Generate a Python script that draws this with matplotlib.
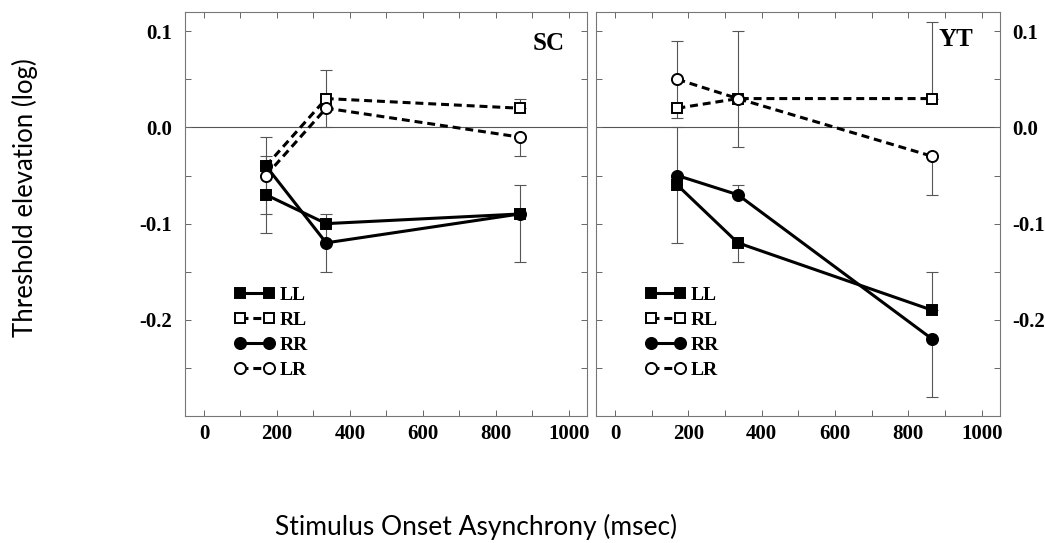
import matplotlib
matplotlib.use('Agg')
import matplotlib.pyplot as mpl
from matplotlib.ticker import MultipleLocator

# stimulus onset asynchrony (msec)
soa = [170, 335, 865]
labels = ['LL', 'RL', 'RR', 'LR']

# subject SC
sc_ll = [-0.07, -0.10, -0.09]
sc_rl = [-0.04, 0.03, 0.02]
sc_rr = [-0.04, -0.12, -0.09]
sc_lr = [-0.05, 0.02, -0.01]
# error bars as [lower, upper]
sc_ll_err = [[0.04, 0.0, 0.05], [0.04, 0.0, 0.03]]
sc_rl_err = [[0.0, 0.03, 0.0], [0.0, 0.03, 0.01]]
sc_rr_err = [[0.0, 0.03, 0.0], [0.0, 0.03, 0.0]]
sc_lr_err = [[0.04, 0.0, 0.02], [0.04, 0.0, 0.0]]

# subject YT
yt_ll = [-0.06, -0.12, -0.19]
yt_rl = [0.02, 0.03, 0.03]
yt_rr = [-0.05, -0.07, -0.22]
yt_lr = [0.05, 0.03, -0.03]
yt_ll_err = [[0.06, 0.02, 0.0], [0.06, 0.0, 0.04]]
yt_rl_err = [[0.0, 0.05, 0.0], [0.0, 0.07, 0.08]]
yt_rr_err = [[0.0, 0.0, 0.06], [0.0, 0.01, 0.0]]
yt_lr_err = [[0.04, 0.0, 0.04], [0.04, 0.0, 0.0]]

tick_font = {'family': 'Liberation Serif', 'weight': 'bold', 'size': 15}
dash = (2.6, 1.6)


def draw_panel(ax, ll, rl, rr, lr, errs, name, name_x, name_y, right_labels):
    ax.axhline(0, color='#555555', lw=0.8, zorder=1)

    styles = [
        (ll, errs[0], 's', 'black', '-'),
        (rl, errs[1], 's', 'white', '--'),
        (rr, errs[2], 'o', 'black', '-'),
        (lr, errs[3], 'o', 'white', '--'),
    ]
    order = [1, 3, 0, 2]  # open symbols below filled
    handles = {}
    for i in order:
        vals, err, mk, fc, ls = styles[i]
        ax.errorbar(soa, vals, yerr=err, fmt='none', ecolor='#555555',
                    elinewidth=0.8, capsize=4, capthick=0.8, zorder=2)
        line, = ax.plot(soa, vals, marker=mk, markersize=8 if mk == 'o' else 7.5,
                        markerfacecolor=fc, markeredgecolor='black',
                        markeredgewidth=1.4, color='black', lw=2.2,
                        linestyle=ls, zorder=3 + i)
        if ls == '--':
            line.set_dashes(dash)
        handles[i] = line

    ax.set_xlim(-52, 1050)
    ax.set_ylim(-0.30, 0.12)
    ax.xaxis.set_minor_locator(MultipleLocator(100))
    ax.yaxis.set_minor_locator(MultipleLocator(0.05))
    ax.set_xticks([0, 200, 400, 600, 800, 1000])
    ax.set_xticklabels(['0', '200', '400', '600', '800', '1000'], fontdict=tick_font)
    ax.set_yticks([-0.2, -0.1, 0.0, 0.1])
    ax.set_yticklabels(['-0.2', '-0.1', '0.0', '0.1'], fontdict=tick_font)
    ax.tick_params(which='both', direction='in', top=True, right=True,
                   length=4, width=0.7, color='#666666')
    ax.tick_params(axis='x', pad=6)
    ax.tick_params(axis='y', pad=9)
    if right_labels:
        ax.tick_params(axis='y', labelleft=False, labelright=True)
    for s in ax.spines.values():
        s.set_color('#777777')
        s.set_linewidth(0.8)

    ax.text(name_x, name_y, name, transform=ax.transAxes, ha='center',
            va='baseline', fontfamily='Liberation Serif', fontweight='bold',
            fontsize=18)

    ax.legend([handles[i] for i in range(4)], labels, loc='upper left',
              bbox_to_anchor=(0.122, 0.322), numpoints=2, frameon=False,
              borderpad=0, borderaxespad=0, handlelength=2.1,
              handletextpad=0.22, labelspacing=0.38,
              prop={'family': 'Liberation Serif', 'weight': 'bold', 'size': 14})


fig = mpl.figure(figsize=(10.45, 5.43), dpi=100)
ax1 = fig.add_axes([185 / 1045, 1 - 416 / 543, 402 / 1045, 404 / 543])
ax2 = fig.add_axes([596 / 1045, 1 - 416 / 543, 404 / 1045, 404 / 543])

draw_panel(ax1, sc_ll, sc_rl, sc_rr, sc_lr,
           [sc_ll_err, sc_rl_err, sc_rr_err, sc_lr_err], 'SC', 0.904, 0.906, False)
draw_panel(ax2, yt_ll, yt_rl, yt_rr, yt_lr,
           [yt_ll_err, yt_rl_err, yt_rr_err, yt_lr_err], 'YT', 0.89, 0.916, True)

fig.text(25 / 1045, 1 - 198 / 543, 'Threshold elevation (log)', rotation=90,
         ha='center', va='center', fontfamily='Lato', fontsize=18.5)
fig.text(476 / 1045, 1 - 527 / 543, 'Stimulus Onset Asynchrony (msec)',
         ha='center', va='center', fontfamily='Lato', fontsize=19)

mpl.savefig('out.png', dpi=100)
mpl.close()
